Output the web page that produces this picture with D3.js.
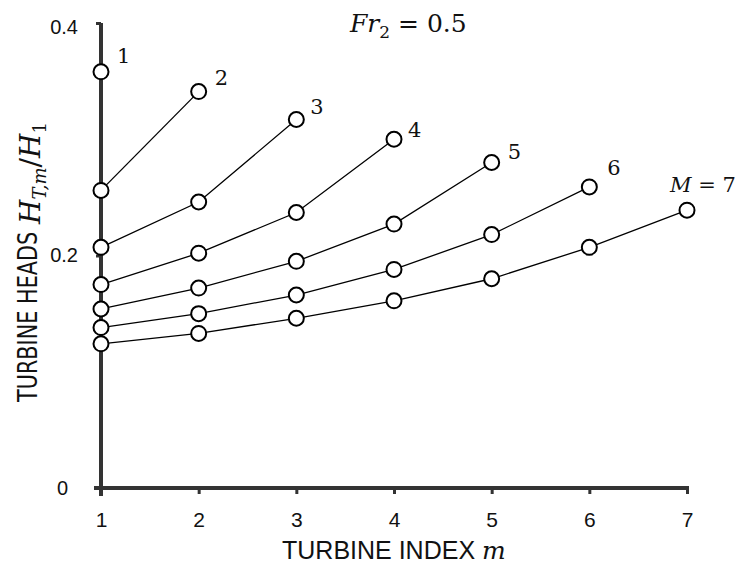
<!DOCTYPE html>
<html lang="en">

<head>
    <meta charset="UTF-8">
    <title>Turbine heads</title>
    <style>
        body { margin: 0; background: #fff; }
        svg { display: block; background-color: #fff; }
    </style>
</head>

<script src="https://cdn.jsdelivr.net/npm/d3@7"></script>

<body>
    <div id="graphic"></div>
    <script>
        // turbine index m on the x axis
        var turbineIndex = [1, 2, 3, 4, 5, 6, 7];
        // one curve per total number of turbines M, values H_T,m / H_1
        var headsM1 = [0.358];
        var headsM2 = [0.256, 0.341];
        var headsM3 = [0.207, 0.246, 0.317];
        var headsM4 = [0.175, 0.202, 0.237, 0.300];
        var headsM5 = [0.154, 0.172, 0.195, 0.227, 0.280];
        var headsM6 = [0.138, 0.150, 0.166, 0.188, 0.218, 0.259];
        var headsM7 = [0.124, 0.133, 0.146, 0.161, 0.180, 0.207, 0.239];
        var curveLabels = ['1', '2', '3', '4', '5', '6', 'M = 7'];
        var yTicks = [0, 0.2, 0.4];

        var width = 741;
        var height = 565;

        var curves = [headsM1, headsM2, headsM3, headsM4, headsM5, headsM6, headsM7];
        // where each curve label sits relative to its last marker (dx, dy of baseline)
        var labelOffsets = [[16, -9], [16, -7], [14, -5], [14, -2], [16, -4], [18, -12], [-17, -18]];

        var x = d3.scaleLinear().domain([1, 7]).range([101, 687]);
        var y = d3.scaleLinear().domain([0, 0.4]).range([488, 23]);

        var svg = d3.select('#graphic')
            .append('svg')
            .attr('width', width)
            .attr('height', height);

        // x axis
        var xAxis = svg.append('g')
            .attr('transform', 'translate(0,' + y(0) + ')')
            .call(d3.axisBottom(x).tickValues(turbineIndex).tickSize(6).tickPadding(18).tickFormat(d3.format('d')));
        xAxis.select('.domain').attr('d', 'M' + (x(1) - 7) + ',0H' + (x(7) + 2))
            .attr('stroke', '#333').attr('stroke-width', 4);
        xAxis.selectAll('.tick line').attr('stroke', '#333').attr('stroke-width', 3);
        xAxis.selectAll('.tick text')
            .attr('font-family', 'Liberation Sans, Arial, sans-serif')
            .attr('font-size', 21).attr('fill', '#111');

        // y axis
        var yAxis = svg.append('g')
            .attr('transform', 'translate(' + x(1) + ',0)')
            .call(d3.axisLeft(y).tickValues(yTicks).tickSize(5).tickPadding(18)
                .tickFormat(function (d) { return d === 0 ? '0' : d3.format('.1f')(d); }));
        yAxis.select('.domain').attr('d', 'M0,' + (y(0) + 8) + 'V' + y(0.4))
            .attr('stroke', '#333').attr('stroke-width', 4);
        yAxis.selectAll('.tick line').attr('stroke', '#333').attr('stroke-width', 3);
        yAxis.selectAll('.tick text')
            .attr('font-family', 'Liberation Sans, Arial, sans-serif')
            .attr('font-size', 20).attr('fill', '#111')
            .attr('dx', function (d) { return d === 0 ? -10 : 0; })
            .attr('dy', function (d) { return d === 0.4 ? '0.5em' : '0.32em'; });

        // lines
        var line = d3.line()
            .x(function (d, i) { return x(turbineIndex[i]); })
            .y(function (d) { return y(d); });

        svg.selectAll('path.curve')
            .data(curves)
            .join('path')
            .attr('class', 'curve')
            .attr('d', line)
            .attr('fill', 'none')
            .attr('stroke', '#000')
            .attr('stroke-width', 1.3);

        // markers
        curves.forEach(function (c) {
            svg.append('g')
                .selectAll('circle')
                .data(c)
                .join('circle')
                .attr('cx', function (d, i) { return x(turbineIndex[i]); })
                .attr('cy', function (d) { return y(d); })
                .attr('r', 7.5)
                .attr('fill', '#fff')
                .attr('stroke', '#000')
                .attr('stroke-width', 2);
        });

        // curve labels next to the last point of each curve
        svg.selectAll('text.clabel')
            .data(curves)
            .join('text')
            .attr('class', 'clabel')
            .attr('x', function (d, i) { return x(turbineIndex[d.length - 1]) + labelOffsets[i][0]; })
            .attr('y', function (d, i) { return y(d[d.length - 1]) + labelOffsets[i][1]; })
            .attr('font-family', 'DejaVu Serif, Liberation Serif, serif')
            .attr('font-size', 21)
            .attr('fill', '#111')
            .each(function (d, i) {
                var t = d3.select(this);
                if (i === 6) {
                    t.append('tspan').attr('font-style', 'italic').text('M');
                    t.append('tspan').text(' = 7');
                } else {
                    t.text(curveLabels[i]);
                }
            });

        // title
        var title = svg.append('text')
            .attr('x', 350).attr('y', 32)
            .attr('font-family', 'DejaVu Serif, Liberation Serif, serif')
            .attr('font-size', 25).attr('fill', '#111');
        title.append('tspan').attr('font-style', 'italic').text('Fr');
        title.append('tspan').attr('font-size', 17).attr('dy', 6).text('2');
        title.append('tspan').attr('dy', -6).text(' = 0.5');

        // x axis title
        var xt = svg.append('text')
            .attr('x', 282).attr('y', 559)
            .attr('font-family', 'Liberation Sans, Arial, sans-serif')
            .attr('font-size', 25).attr('fill', '#111');
        xt.append('tspan').text('TURBINE INDEX ');
        xt.append('tspan').attr('font-family', 'DejaVu Serif, serif').attr('font-style', 'italic').text('m');

        // y axis title, plain part then the ratio
        svg.append('text')
            .attr('transform', 'translate(37,402) rotate(-90) scale(0.8,1)')
            .attr('font-family', 'DejaVu Sans, Verdana, sans-serif')
            .attr('font-size', 26).attr('fill', '#111')
            .text('TURBINE HEADS');

        var ym = svg.append('text')
            .attr('transform', 'translate(40,224) rotate(-90)')
            .attr('font-family', 'DejaVu Serif, serif')
            .attr('font-size', 28).attr('fill', '#111');
        ym.append('tspan').attr('font-style', 'italic').text('H');
        ym.append('tspan').attr('font-style', 'italic').attr('font-size', 18).attr('dy', 6).text('T,m');
        ym.append('tspan').attr('dy', -6).text('/');
        ym.append('tspan').attr('font-style', 'italic').text('H');
        ym.append('tspan').attr('font-size', 18).attr('dy', 6).text('1');
    </script>
</body>

</html>
